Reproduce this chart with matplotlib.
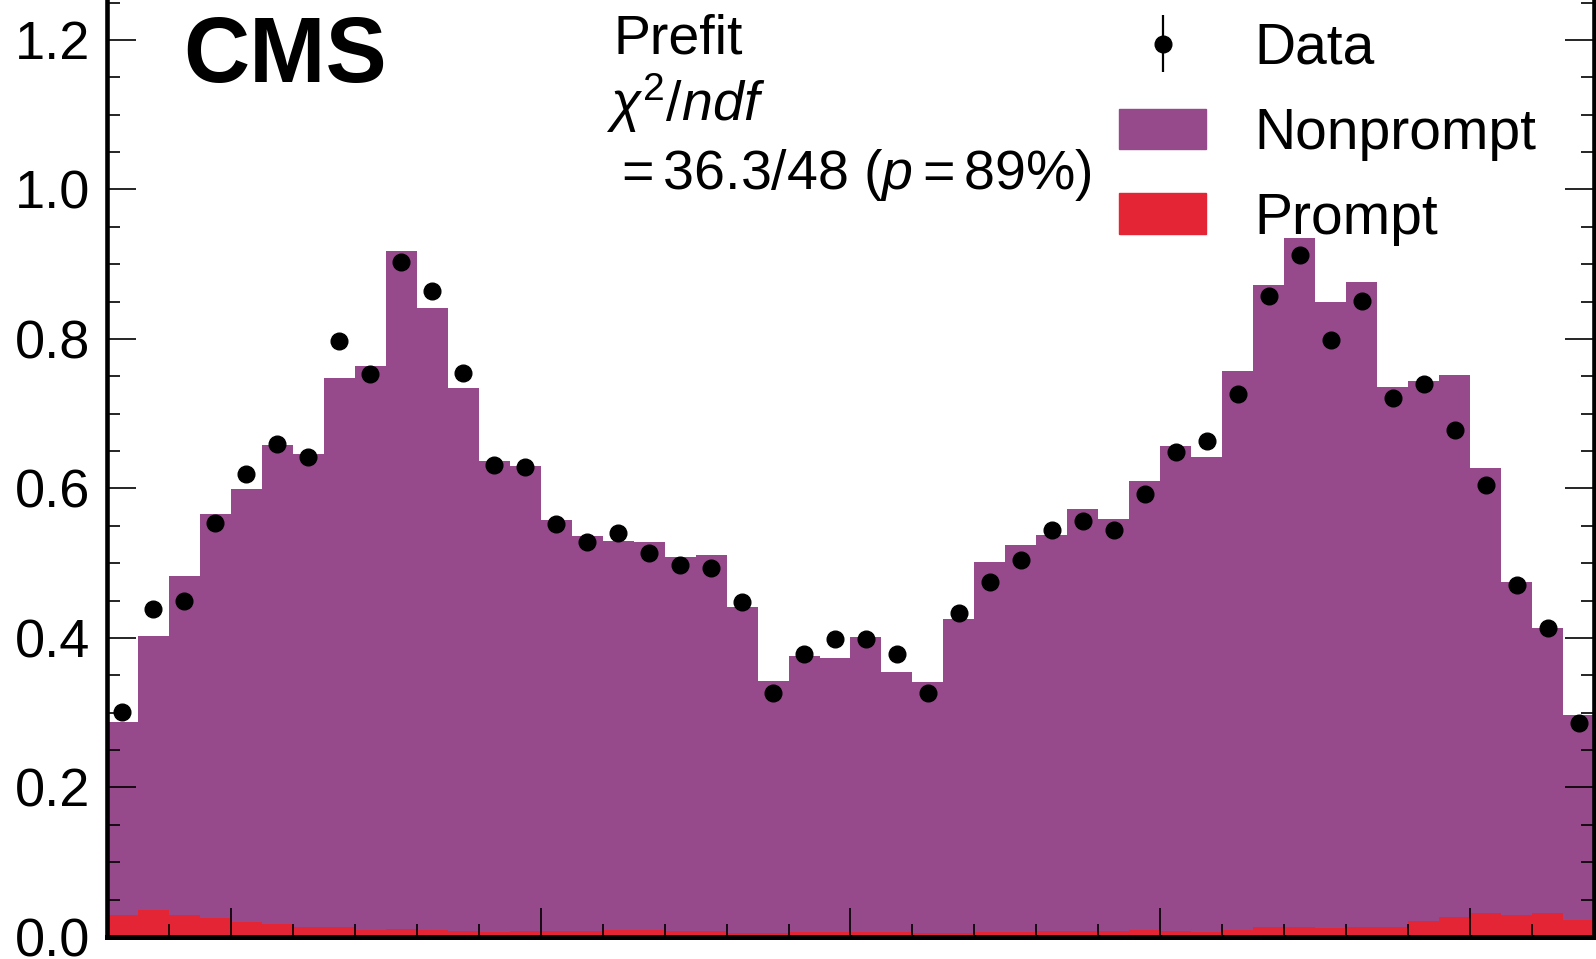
import numpy as np
import matplotlib
matplotlib.use("Agg")
import matplotlib.pyplot as plt
from matplotlib.ticker import MultipleLocator
from matplotlib.patches import Patch

plt.rcParams['font.family'] = ['Liberation Sans', 'DejaVu Sans']
plt.rcParams['mathtext.fontset'] = 'custom'
plt.rcParams['mathtext.rm'] = 'Liberation Sans'
plt.rcParams['mathtext.it'] = 'Liberation Sans:italic'
plt.rcParams['mathtext.bf'] = 'Liberation Sans:bold'

# ---- data (48 bins in eta, -2.4 .. 2.4) ----
bin_edges = np.linspace(-2.4, 2.4, 49)

nonprompt = [0.258, 0.367, 0.454, 0.540, 0.579, 0.641, 0.632, 0.735, 0.754, 0.907,
             0.832, 0.726, 0.630, 0.622, 0.550, 0.529, 0.521, 0.519, 0.500, 0.503,
             0.436, 0.336, 0.369, 0.366, 0.394, 0.347, 0.336, 0.420, 0.494, 0.518,
             0.530, 0.565, 0.551, 0.601, 0.649, 0.635, 0.747, 0.859, 0.922, 0.837,
             0.862, 0.722, 0.723, 0.725, 0.595, 0.445, 0.381, 0.274]

prompt = [0.030, 0.036, 0.029, 0.026, 0.020, 0.017, 0.014, 0.013, 0.010, 0.011,
          0.009, 0.008, 0.007, 0.008, 0.008, 0.008, 0.009, 0.009, 0.008, 0.008,
          0.006, 0.006, 0.007, 0.007, 0.007, 0.007, 0.005, 0.005, 0.007, 0.007,
          0.008, 0.008, 0.008, 0.009, 0.008, 0.007, 0.010, 0.013, 0.013, 0.012,
          0.014, 0.014, 0.021, 0.027, 0.032, 0.030, 0.032, 0.023]

data = [0.301, 0.439, 0.449, 0.554, 0.619, 0.660, 0.642, 0.797, 0.753, 0.903,
        0.864, 0.754, 0.631, 0.629, 0.553, 0.529, 0.541, 0.514, 0.497, 0.493,
        0.448, 0.327, 0.379, 0.399, 0.398, 0.379, 0.327, 0.434, 0.475, 0.504,
        0.545, 0.556, 0.545, 0.592, 0.649, 0.663, 0.726, 0.858, 0.913, 0.799,
        0.851, 0.721, 0.740, 0.678, 0.605, 0.471, 0.413, 0.286]
data_err = 0.008  # statistical error, smaller than the marker

C_NONPROMPT = '#964a8b'
C_PROMPT = '#e42536'

W, H = 1596, 959
fig = plt.figure(figsize=(W / 100, H / 100), dpi=100)
ax = fig.add_axes([107 / W, (H - 937) / H, (1594 - 107) / W, 937 / H])

prompt_a = np.array(prompt)
total_a = prompt_a + np.array(nonprompt)
centers = 0.5 * (bin_edges[1:] + bin_edges[:-1])

ax.stairs(prompt_a, bin_edges, fill=True, color=C_PROMPT, lw=0)
ax.stairs(total_a, bin_edges, baseline=prompt_a, fill=True, color=C_NONPROMPT, lw=0)
eb = ax.errorbar(centers, data, yerr=data_err, fmt='o', color='black', ms=12,
                 elinewidth=1.6, capsize=0, zorder=5)

ax.set_xlim(-2.4, 2.4)
ax.set_ylim(0, 1.2535)

ax.xaxis.set_major_locator(MultipleLocator(1.0))
ax.xaxis.set_minor_locator(MultipleLocator(0.2))
ax.yaxis.set_major_locator(MultipleLocator(0.2))
ax.yaxis.set_minor_locator(MultipleLocator(0.05))
ax.yaxis.set_major_formatter(matplotlib.ticker.FormatStrFormatter('%.1f'))

ax.tick_params(which='both', direction='in', top=False, right=True,
               labelbottom=False, labelsize=39, pad=12, width=1.2, zorder=6)
ax.tick_params(which='major', length=21)
ax.tick_params(which='minor', length=9.5)

ax.spines['top'].set_visible(False)
ax.spines['left'].set_linewidth(3.3)
ax.spines['bottom'].set_linewidth(3.6)
ax.spines['right'].set_linewidth(3.3)
for s in ax.spines.values():
    s.set_zorder(7)

handles = [eb, Patch(color=C_NONPROMPT), Patch(color=C_PROMPT)]
labels = ['Data', 'Nonprompt', 'Prompt']
leg = ax.legend(handles, labels, loc='upper left',
                bbox_to_anchor=(1119 / W, 1 - 22 / H), bbox_transform=fig.transFigure,
                frameon=False, fontsize=41, borderpad=0, borderaxespad=0,
                handlelength=1.53, handleheight=0.72, handletextpad=0.85,
                labelspacing=0.54)

fig.text(183 / W, (H - 82) / H, 'CMS', fontsize=66, fontweight='bold',
         ha='left', va='baseline')
fig.text(613 / W, (H - 54) / H, 'Prefit', fontsize=40, ha='left', va='baseline')
fig.text(606 / W, (H - 121) / H, r'$\chi^2/ndf$', fontsize=40, ha='left', va='baseline')
fig.text(612 / W, (H - 189) / H, r'$=36.3/48$ ($p=89\%$)', fontsize=40,
         ha='left', va='baseline')

fig.savefig('out.png', dpi=100)
